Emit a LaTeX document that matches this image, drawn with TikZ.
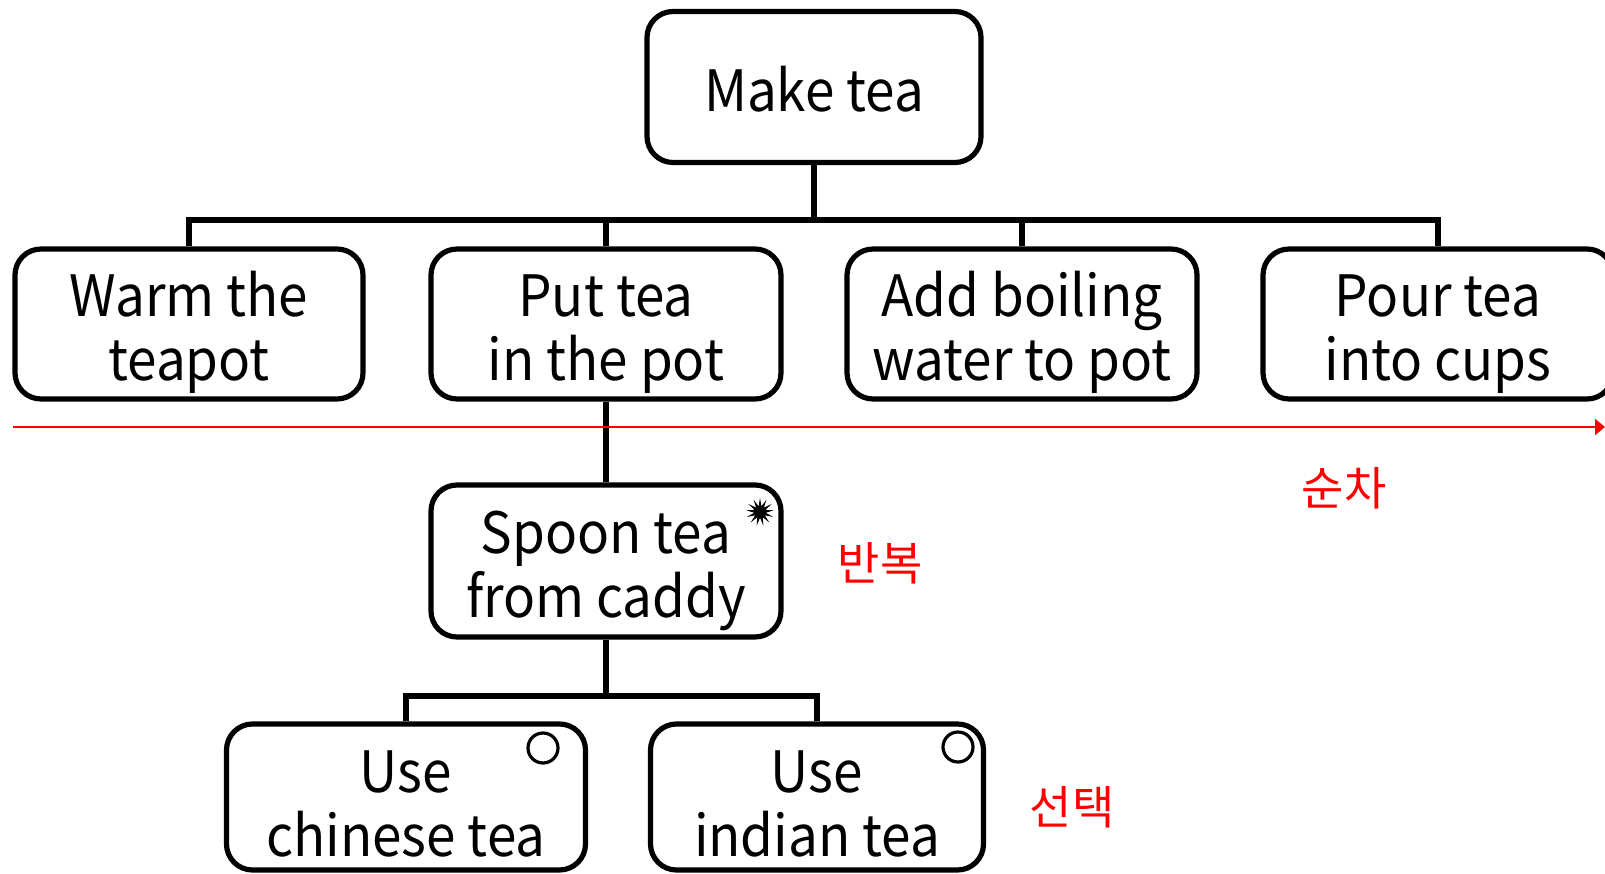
\documentclass[tikz,border=0pt]{standalone}
\usepackage{fontspec}
\setmainfont{Noto Sans CJK KR}
\newfontfamily\boxfont{Noto Sans CJK KR}[FakeStretch=0.93]
\usetikzlibrary{arrows.meta,shapes.geometric}
% invisible strut that sets the height of a first text line
\newcommand\firstline[1]{\rule{0pt}{#1}}
\begin{document}
\begin{tikzpicture}[x=1pt,y=-1pt,
  task/.style={draw,line width=5.2pt,rounded corners=26pt,inner sep=0pt,
    align=center,font=\boxfont\fontsize{57}{64}\selectfont,fill=white},
  link/.style={line width=5.2pt},
  note/.style={text=red,font=\fontsize{46}{50}\selectfont},
  opt/.style={draw,circle,line width=3.2pt,minimum size=30pt,inner sep=0pt},
  burst/.style={star,star points=13,star point ratio=2.4,fill=black,
    minimum size=28pt,inner sep=0pt}]
\useasboundingbox (0,0) rectangle (1605,874);

% root task
\node[task,minimum width=334pt,minimum height=151pt] (make) at (814,87) {\firstline{50pt}Make tea};

% first level of steps
\node[task,minimum width=348pt,minimum height=150pt] (warm) at (189,324) {\firstline{62pt}Warm the\\teapot};
\node[task,minimum width=350pt,minimum height=150pt] (put)  at (606,324) {\firstline{62pt}Put tea\\in the pot};
\node[task,minimum width=350pt,minimum height=150pt] (add)  at (1022,324) {\firstline{62pt}Add boiling\\water to pot};
\node[task,minimum width=350pt,minimum height=150pt] (pour) at (1438,324) {\firstline{62pt}Pour tea\\into cups};

% repeated step
\node[task,minimum width=350pt,minimum height=152pt] (spoon) at (606,561) {\firstline{62pt}Spoon tea\\from caddy};
\node[burst] (mark) at (760,512) {};

% alternative choices
\node[task,minimum width=359pt,minimum height=146pt] (chinese) at (406,797) {\firstline{55pt}Use\\chinese tea};
\node[task,minimum width=333pt,minimum height=146pt] (indian)  at (817,797) {\firstline{55pt}Use\\indian tea};
\node[opt] (ochinese) at (543,748) {};
\node[opt] (oindian)  at (958,747) {};

% tree connectors
\coordinate (bus) at (0,220);
\coordinate (subbus) at (0,696);
\draw[link] (make.south) -- (make.south |- bus);
\draw[link] (warm.north) -- (warm.north |- bus) -- (pour.north |- bus) -- (pour.north);
\draw[link] (put.north) -- (put.north |- bus);
\draw[link] (add.north) -- (add.north |- bus);
\draw[link] (put.south) -- (spoon.north);
\draw[link] (spoon.south) -- (spoon.south |- subbus);
\draw[link] (chinese.north) -- (chinese.north |- subbus) -- (indian.north |- subbus) -- (indian.north);

% sequence arrow and labels
\coordinate (seqL) at (13,427);
\coordinate (seqR) at (1605,427);
\draw[red,line width=2.2pt,-{Triangle[length=10pt,width=16pt]}] (seqL) -- (seqR);
\node[note] (seq) at (1344,488) {순차};
\node[note] (rep) at (880,563) {반복};
\node[note] (sel) at (1072,807) {선택};
\end{tikzpicture}
\end{document}
